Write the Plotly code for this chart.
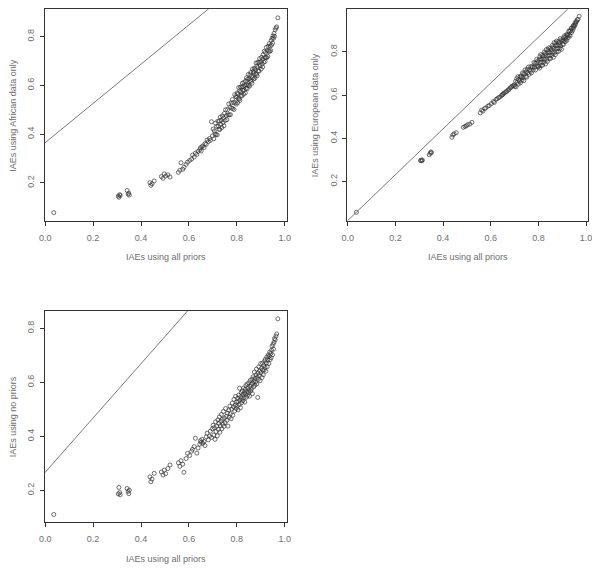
import plotly.graph_objects as go

# IAEs using all priors (shared x for every panel)
iae_all = [
    0.036, 0.305, 0.308, 0.311, 0.313, 0.342, 0.346, 0.349, 0.351,
    0.437, 0.441, 0.446, 0.455, 0.485, 0.492, 0.497, 0.503, 0.512, 0.521,
    0.556, 0.562, 0.567, 0.574, 0.579, 0.588, 0.594,
    0.603, 0.611, 0.615, 0.622, 0.627, 0.633, 0.638, 0.645, 0.648, 0.651,
    0.654, 0.658, 0.663, 0.667, 0.672, 0.676, 0.681, 0.686, 0.689, 0.694, 0.698,
    0.701, 0.704, 0.706, 0.709, 0.711, 0.713, 0.716, 0.718, 0.721, 0.723,
    0.725, 0.727, 0.729, 0.731, 0.733, 0.735, 0.737, 0.739, 0.742, 0.744,
    0.746, 0.748, 0.751, 0.753, 0.756, 0.758, 0.761, 0.763, 0.766, 0.768,
    0.771, 0.773, 0.776, 0.778, 0.781, 0.783, 0.786, 0.788, 0.791, 0.793,
    0.795, 0.797, 0.799,
    0.801, 0.803, 0.805, 0.806, 0.808, 0.810, 0.811, 0.813, 0.815, 0.816,
    0.818, 0.820, 0.821, 0.823, 0.825, 0.826, 0.828, 0.830, 0.831, 0.833,
    0.835, 0.836, 0.838, 0.840, 0.841, 0.843, 0.845, 0.846, 0.848, 0.850,
    0.851, 0.853, 0.855, 0.856, 0.858, 0.860, 0.861, 0.863, 0.865, 0.866,
    0.868, 0.870, 0.871, 0.873, 0.875, 0.876, 0.878, 0.880, 0.882, 0.883,
    0.885, 0.887, 0.888, 0.890, 0.892, 0.893, 0.895, 0.897, 0.899,
    0.901, 0.903, 0.905, 0.907, 0.908, 0.910, 0.912, 0.914, 0.916, 0.918,
    0.919, 0.921, 0.923, 0.925, 0.927, 0.929, 0.931, 0.933, 0.935, 0.937,
    0.939, 0.941, 0.943, 0.945, 0.947, 0.949, 0.951, 0.953, 0.955, 0.957,
    0.960, 0.963, 0.966, 0.971,
]

# IAEs using African data only
iae_african = [
    0.078, 0.146, 0.141, 0.152, 0.148, 0.169, 0.154, 0.158, 0.150,
    0.201, 0.190, 0.196, 0.208, 0.226, 0.219, 0.237, 0.228, 0.233, 0.224,
    0.243, 0.252, 0.283, 0.256, 0.264, 0.276, 0.285,
    0.292, 0.298, 0.314, 0.306, 0.322, 0.317, 0.329, 0.336, 0.344, 0.331,
    0.348, 0.352, 0.345, 0.361, 0.358, 0.376, 0.369, 0.382, 0.374, 0.451, 0.393,
    0.421, 0.381, 0.413, 0.401, 0.445, 0.398, 0.432, 0.397, 0.453, 0.432,
    0.420, 0.454, 0.419, 0.470, 0.440, 0.457, 0.427, 0.475, 0.447, 0.466,
    0.434, 0.485, 0.456, 0.500, 0.476, 0.459, 0.500, 0.479, 0.524, 0.479,
    0.510, 0.480, 0.528, 0.507, 0.542, 0.505, 0.530, 0.501, 0.562, 0.529,
    0.554, 0.523, 0.552,
    0.569, 0.528, 0.565, 0.546, 0.591, 0.544, 0.577, 0.538, 0.593, 0.572,
    0.559, 0.594, 0.557, 0.609, 0.579, 0.594, 0.564, 0.612, 0.581, 0.600,
    0.569, 0.618, 0.587, 0.631, 0.603, 0.586, 0.625, 0.602, 0.645, 0.600,
    0.627, 0.597, 0.643, 0.620, 0.653, 0.616, 0.637, 0.608, 0.667, 0.632,
    0.657, 0.626, 0.653, 0.670, 0.629, 0.664, 0.647, 0.692, 0.645, 0.678,
    0.639, 0.694, 0.673, 0.660, 0.695, 0.658, 0.710, 0.680, 0.697,
    0.667, 0.715, 0.687, 0.706, 0.676, 0.726, 0.695, 0.740, 0.714, 0.698,
    0.735, 0.715, 0.756, 0.714, 0.743, 0.719, 0.760, 0.740, 0.771, 0.739,
    0.762, 0.743, 0.784, 0.765, 0.793, 0.773, 0.803, 0.793, 0.813, 0.801,
    0.828, 0.835, 0.840, 0.877,
]

# IAEs using European data only
iae_european = [
    0.058, 0.297, 0.299, 0.296, 0.300, 0.324, 0.331, 0.337, 0.334,
    0.405, 0.416, 0.421, 0.426, 0.451, 0.455, 0.458, 0.463, 0.466, 0.474,
    0.518, 0.531, 0.526, 0.538, 0.541, 0.549, 0.552,
    0.561, 0.570, 0.566, 0.580, 0.584, 0.588, 0.591, 0.598, 0.601, 0.604,
    0.607, 0.611, 0.615, 0.617, 0.623, 0.626, 0.633, 0.636, 0.641, 0.644, 0.647,
    0.641, 0.664, 0.638, 0.676, 0.659, 0.685, 0.651, 0.673, 0.665, 0.687,
    0.657, 0.686, 0.681, 0.669, 0.703, 0.680, 0.699, 0.667, 0.698, 0.717,
    0.686, 0.708, 0.683, 0.720, 0.704, 0.730, 0.696, 0.718, 0.710, 0.732,
    0.703, 0.732, 0.728, 0.716, 0.751, 0.728, 0.748, 0.716, 0.747, 0.766,
    0.735, 0.757, 0.731,
    0.733, 0.765, 0.725, 0.778, 0.752, 0.788, 0.736, 0.766, 0.752, 0.783,
    0.739, 0.779, 0.770, 0.752, 0.799, 0.765, 0.792, 0.744, 0.785, 0.811,
    0.765, 0.796, 0.756, 0.810, 0.783, 0.819, 0.769, 0.798, 0.784, 0.816,
    0.770, 0.810, 0.802, 0.783, 0.830, 0.797, 0.823, 0.775, 0.818, 0.843,
    0.797, 0.829, 0.787, 0.841, 0.815, 0.850, 0.800, 0.830, 0.816, 0.847,
    0.803, 0.843, 0.834, 0.816, 0.862, 0.828, 0.855, 0.812, 0.850,
    0.835, 0.856, 0.834, 0.867, 0.852, 0.875, 0.847, 0.866, 0.859, 0.880,
    0.853, 0.879, 0.876, 0.866, 0.896, 0.878, 0.896, 0.874, 0.898, 0.909,
    0.890, 0.911, 0.898, 0.920, 0.909, 0.923, 0.918, 0.932, 0.927, 0.939,
    0.940, 0.949, 0.950, 0.965,
]

# IAEs using no priors
iae_none = [
    0.111, 0.187, 0.211, 0.192, 0.184, 0.207, 0.196, 0.188, 0.201,
    0.250, 0.232, 0.242, 0.263, 0.268, 0.257, 0.275, 0.262, 0.281, 0.294,
    0.302, 0.289, 0.310, 0.297, 0.267, 0.318, 0.337,
    0.329, 0.345, 0.352, 0.362, 0.393, 0.338, 0.357, 0.371, 0.384, 0.378,
    0.389, 0.374, 0.381, 0.366, 0.398, 0.412, 0.387, 0.401, 0.419, 0.396, 0.428,
    0.441, 0.405, 0.432, 0.389, 0.454, 0.418, 0.437, 0.402, 0.461, 0.426,
    0.448, 0.472, 0.415, 0.439, 0.456, 0.481, 0.428, 0.463, 0.445, 0.492,
    0.437, 0.468, 0.451, 0.503, 0.474, 0.459, 0.486, 0.438, 0.497, 0.471,
    0.512, 0.483, 0.465, 0.501, 0.523, 0.478, 0.509, 0.537, 0.494, 0.516,
    0.548, 0.503, 0.527,
    0.512, 0.541, 0.498, 0.529, 0.553, 0.518, 0.578, 0.535, 0.506, 0.547,
    0.562, 0.524, 0.541, 0.568, 0.532, 0.554, 0.579, 0.543, 0.561, 0.527,
    0.574, 0.556, 0.588, 0.545, 0.566, 0.594, 0.552, 0.579, 0.563, 0.598,
    0.571, 0.549, 0.585, 0.607, 0.568, 0.592, 0.576, 0.612, 0.558, 0.597,
    0.621, 0.583, 0.604, 0.638, 0.589, 0.615, 0.601, 0.627, 0.649, 0.594,
    0.618, 0.544, 0.634, 0.611, 0.657, 0.624, 0.641, 0.606, 0.669,
    0.636, 0.652, 0.618, 0.671, 0.645, 0.628, 0.662, 0.646, 0.679, 0.655,
    0.685, 0.641, 0.672, 0.694, 0.658, 0.683, 0.701, 0.669, 0.696, 0.712,
    0.684, 0.706, 0.691, 0.719, 0.734, 0.702, 0.741, 0.723, 0.748, 0.762,
    0.757, 0.771, 0.779, 0.835,
]

y_series = [iae_african, iae_european, iae_none]
y_titles = ["IAEs using African data only", "IAEs using European data only",
            "IAEs using no priors"]
line_intercepts = [0.365, 0.02, 0.267]
line_slopes = [0.805, 1.06, 1.005]
y_ranges = [[0.045, 0.912], [0.019, 0.997], [0.082, 0.865]]
x_range = [-0.002, 1.008]

# the page body adds an 8px margin, so the figure is sized/positioned for that
OFF = 8
W, H = 600 - OFF, 569 - OFF
# plot boxes in window pixels: left, right, top, bottom
boxes = [(44.7, 286.7, 9.3, 220.7), (347.3, 588.0, 9.3, 220.7),
         (44.7, 286.7, 310.7, 522.3)]

TEXT = "#6e6e6e"
INK = "#333333"
FONT = "Liberation Sans, Arial, sans-serif"

fig = go.Figure()
annotations = []
for i, (ys, ytitle) in enumerate(zip(y_series, y_titles)):
    n = "" if i == 0 else str(i + 1)
    xa, ya = "x" + n, "y" + n
    # scatter points
    fig.add_trace(go.Scatter(
        x=iae_all, y=ys, mode="markers", xaxis=xa, yaxis=ya,
        marker=dict(symbol="circle-open", size=4, color=INK,
                    line=dict(width=0.7, color=INK)),
        showlegend=False, hoverinfo="x+y"))
    # straight reference line
    lx = [x_range[0], x_range[1]]
    ly = [line_intercepts[i] + line_slopes[i] * v for v in lx]
    fig.add_trace(go.Scatter(
        x=lx, y=ly, mode="lines", xaxis=xa, yaxis=ya,
        line=dict(color="#555555", width=0.8),
        showlegend=False, hoverinfo="skip"))

    l, r, t, b = [v - OFF for v in boxes[i]]
    axis_common = dict(showline=True, mirror=True, linecolor=INK, linewidth=1,
                       ticks="outside", ticklen=4, tickwidth=1, tickcolor=INK,
                       showgrid=False, zeroline=False, automargin=False,
                       tickfont=dict(family=FONT, size=9, color=TEXT))
    fig.update_layout({
        "xaxis" + n: dict(domain=[l / W, r / W], range=x_range, anchor=ya,
                          tickvals=[0, 0.2, 0.4, 0.6, 0.8, 1.0],
                          ticktext=["0.0", "0.2", "0.4", "0.6", "0.8", "1.0"],
                          ticklabelstandoff=4, **axis_common),
        "yaxis" + n: dict(domain=[1 - b / H, 1 - t / H], range=y_ranges[i],
                          anchor=xa, tickvals=[0.2, 0.4, 0.6, 0.8],
                          ticktext=["0.2", "0.4", "0.6", "0.8"],
                          tickangle=-90, ticklabelstandoff=2, **axis_common),
    })
    annotations.append(dict(
        text="IAEs using all priors", xref="paper", yref="paper",
        x=(l + r) / 2 / W, y=1 - (b + 36.5) / H,
        showarrow=False, font=dict(family=FONT, size=9, color=TEXT),
        xanchor="center", yanchor="middle"))
    annotations.append(dict(
        text=ytitle, xref="paper", yref="paper", textangle=-90,
        x=(l - 32) / W, y=1 - (t + b) / 2 / H,
        showarrow=False, font=dict(family=FONT, size=9, color=TEXT),
        xanchor="center", yanchor="middle"))

fig.update_layout(
    width=W, height=H, margin=dict(l=0, r=0, t=0, b=0),
    paper_bgcolor="white", plot_bgcolor="white",
    annotations=annotations,
)

fig.write_html("out.html")
